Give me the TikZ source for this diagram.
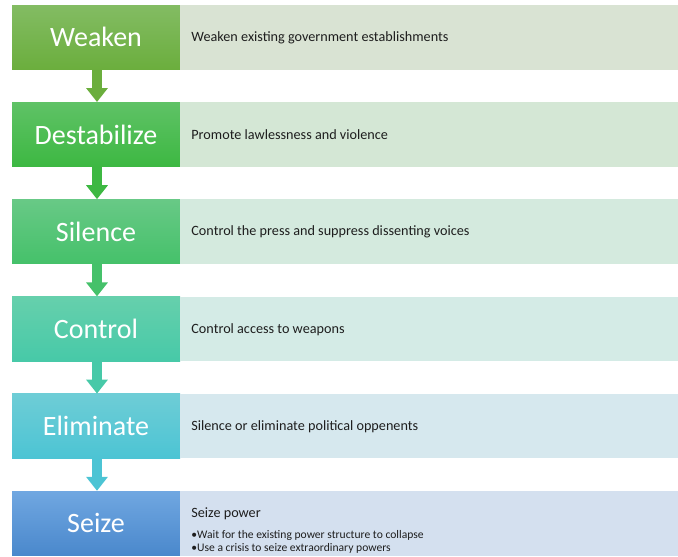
\documentclass[tikz,border=0pt]{standalone}
\usepackage{fontspec}
\setmainfont{Carlito}
\usetikzlibrary{arrows.meta,calc}
\definecolor{txt}{HTML}{1E1E1E}
\definecolor{wT}{HTML}{83BC63}\definecolor{wB}{HTML}{6BAE3D}\definecolor{wR}{HTML}{D9E3D3}
\definecolor{dT}{HTML}{5FC266}\definecolor{dB}{HTML}{3DB842}\definecolor{dR}{HTML}{D4E7D5}
\definecolor{sT}{HTML}{68C986}\definecolor{sB}{HTML}{45C16A}\definecolor{sR}{HTML}{D4EADE}
\definecolor{cT}{HTML}{66D0AC}\definecolor{cB}{HTML}{47C9A8}\definecolor{cR}{HTML}{D4EBE6}
\definecolor{eT}{HTML}{6ECDD6}\definecolor{eB}{HTML}{4CC4D4}\definecolor{eR}{HTML}{D6E8EE}
\definecolor{zT}{HTML}{70A7E1}\definecolor{zB}{HTML}{4A88CC}\definecolor{zR}{HTML}{D4E0EF}
\tikzset{
  stage/.style={minimum width=168pt,minimum height=64.5pt,inner sep=0pt,
    text=white,font=\fontsize{28}{30}\selectfont,anchor=center},
  desc/.style={minimum width=498pt,minimum height=64.5pt,inner sep=0pt,anchor=west},
  dtext/.style={anchor=west,inner sep=0pt,text=txt,font=\fontsize{14.2}{16}\selectfont},
  btext/.style={anchor=west,inner sep=0pt,text=txt,font=\fontsize{11.6}{13}\selectfont},
  flow/.style={line width=10pt,-{Triangle[width=21pt,length=14pt]}}
}
\begin{document}
\begin{tikzpicture}[x=1pt,y=-1pt]
\useasboundingbox (0,0) rectangle (678,557);
% stages
\node[stage,top color=wT,bottom color=wB] (w) at (96,37.25) {Weaken};
\node[stage,top color=dT,bottom color=dB] (d) at (96,134.45) {Destabilize};
\node[stage,top color=sT,bottom color=sB] (s) at (96,231.65) {Silence};
\node[stage,top color=cT,bottom color=cB] (c) at (96,328.85) {Control};
\node[stage,top color=eT,bottom color=eB] (e) at (96,426.05) {Eliminate};
\node[stage,top color=zT,bottom color=zB] (z) at (96,523.25) {Seize};
% descriptions
\node[desc,fill=wR] (wr) at (w.east) {};
\node[desc,fill=dR] (dr) at (d.east) {};
\node[desc,fill=sR] (sr) at (s.east) {};
\node[desc,fill=cR] (cr) at (c.east) {};
\node[desc,fill=eR] (er) at (e.east) {};
\node[desc,fill=zR] (zr) at (z.east) {};
\node[dtext] (wt) at ($(wr.west)+(11,0.5)$) {Weaken existing government establishments};
\node[dtext] (dt) at ($(dr.west)+(11,0.5)$) {Promote lawlessness and violence};
\node[dtext] (st) at ($(sr.west)+(11,0.5)$) {Control the press and suppress dissenting voices};
\node[dtext] (ct) at ($(cr.west)+(11,0.5)$) {Control access to weapons};
\node[dtext] (et) at ($(er.west)+(11,0.5)$) {Silence or eliminate political oppenents};
\node[dtext] (zt) at ($(zr.west)+(11,-9.5)$) {Seize power};
\node[btext] (zb1) at ($(zr.west)+(11,12.5)$) {\textbullet Wait for the existing power structure to collapse};
\node[btext] (zb2) at ($(zr.west)+(11,25.5)$) {\textbullet Use a crisis to seize extraordinary powers};
% arrows
\draw[flow,draw=wB] ($(w.south)+(1,0)$) -- ($(d.north)+(1,0)$);
\draw[flow,draw=dB] ($(d.south)+(1,0)$) -- ($(s.north)+(1,0)$);
\draw[flow,draw=sB] ($(s.south)+(1,0)$) -- ($(c.north)+(1,0)$);
\draw[flow,draw=cB] ($(c.south)+(1,0)$) -- ($(e.north)+(1,0)$);
\draw[flow,draw=eB] ($(e.south)+(1,0)$) -- ($(z.north)+(1,0)$);
\end{tikzpicture}
\end{document}
